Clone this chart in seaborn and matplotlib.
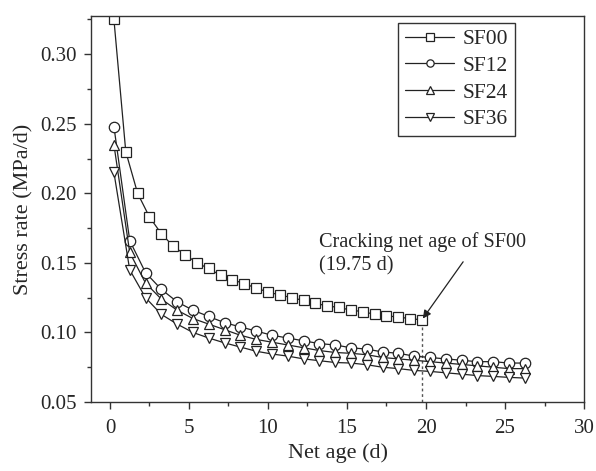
import numpy as np
import pandas as pd
import matplotlib
matplotlib.use("Agg")
import matplotlib.pyplot as plt
import seaborn as sns

# ---- data ----
age_sf00 = [0.25 + 0.75 * i for i in range(27)]
age_sf = [0.25 + 1.0 * i for i in range(27)]

sf00 = [0.325, 0.230, 0.200, 0.183, 0.171, 0.162, 0.156, 0.150, 0.146, 0.141,
        0.138, 0.135, 0.132, 0.129, 0.127, 0.125, 0.123, 0.121, 0.119, 0.118,
        0.116, 0.115, 0.113, 0.112, 0.111, 0.110, 0.109]
sf12 = [0.248, 0.166, 0.143, 0.131, 0.122, 0.116, 0.1115, 0.107, 0.104, 0.101,
        0.098, 0.096, 0.094, 0.092, 0.091, 0.089, 0.088, 0.086, 0.085, 0.083,
        0.082, 0.081, 0.080, 0.079, 0.079, 0.078, 0.078]
sf24 = [0.235, 0.1575, 0.1355, 0.124, 0.116, 0.110, 0.106, 0.102, 0.098, 0.095,
        0.093, 0.091, 0.089, 0.087, 0.0856, 0.085, 0.084, 0.082, 0.081, 0.080,
        0.079, 0.078, 0.077, 0.076, 0.075, 0.074, 0.074]
sf36 = [0.215, 0.145, 0.125, 0.113, 0.106, 0.100, 0.096, 0.0925, 0.0895, 0.0865,
        0.0845, 0.083, 0.081, 0.0797, 0.0784, 0.078, 0.0768, 0.075, 0.074, 0.0727,
        0.072, 0.071, 0.070, 0.069, 0.0684, 0.0677, 0.0672]

series_names = ["SF00", "SF12", "SF24", "SF36"]
series_x = [age_sf00, age_sf, age_sf, age_sf]
series_y = [sf00, sf12, sf24, sf36]
markers = ["s", "o", "^", "v"]

crack_age = 19.75
crack_rate = sf00[-1]

x_ticks = [0, 5, 10, 15, 20, 25, 30]
y_ticks = [0.05, 0.10, 0.15, 0.20, 0.25, 0.30]

# ---- style ----
sns.set_theme(style="ticks")
plt.rcParams["font.family"] = ["Liberation Serif", "DejaVu Serif"]

fig = plt.figure(figsize=(5.96, 4.71), dpi=100)
ax = fig.add_axes([0.1527, 0.1465, 0.8272, 0.8195])

for name, xs, ys, mk in zip(series_names, series_x, series_y, markers):
    df = pd.DataFrame({"age": xs, "rate": ys})
    sns.lineplot(data=df, x="age", y="rate", ax=ax, color="#222222",
                 linewidth=0.9, marker=mk, markersize=7.5,
                 markerfacecolor="white", markeredgecolor="#222222",
                 markeredgewidth=0.9, label=name, errorbar=None)

# cracking marker line
ax.plot([crack_age, crack_age], [0.05, crack_rate], color="#555555",
        linestyle=(0, (2, 2)), linewidth=1.0, zorder=1)

ax.text(13.2, 0.1725, "Cracking net age of SF00\n(19.75 d)", fontsize=14.6,
        ha="left", va="top", linespacing=1.35)
ax.annotate("", xy=(crack_age + 0.05, crack_rate + 0.001),
            xytext=(22.35, 0.1508), textcoords="data",
            arrowprops=dict(arrowstyle="-|>", color="#222222", lw=0.9,
                            shrinkA=0, shrinkB=0, mutation_scale=12))

ax.set_xlim(-1.2, 30)
ax.set_ylim(0.05, 0.3275)
ax.set_xticks(x_ticks)
ax.set_yticks(y_ticks)
ax.set_xticklabels([str(v) for v in x_ticks])
ax.set_yticklabels([f"{v:.2f}" for v in y_ticks])
ax.set_xticks([2.5, 7.5, 12.5, 17.5, 22.5, 27.5], minor=True)
ax.set_yticks([0.075, 0.125, 0.175, 0.225, 0.275, 0.325], minor=True)
ax.tick_params(axis="both", which="major", direction="out", length=5,
               width=1.0, labelsize=15, color="#333333")
ax.tick_params(axis="x", which="major", pad=7)
ax.tick_params(axis="y", which="major", pad=5)
ax.tick_params(axis="both", which="minor", direction="out", length=3,
               width=1.0, color="#333333")
ax.tick_params(top=False, right=False, which="both")

for sp in ax.spines.values():
    sp.set_visible(True)
    sp.set_color("#333333")
    sp.set_linewidth(1.0)

ax.set_xlabel("Net age (d)", fontsize=16, labelpad=4)
ax.set_ylabel("Stress rate (MPa/d)", fontsize=16, labelpad=5)

leg = ax.legend(loc="upper right", bbox_to_anchor=(0.86, 0.982),
                fontsize=15.5, frameon=True, fancybox=False,
                edgecolor="#333333", framealpha=1, handlelength=2.3,
                handletextpad=0.4, labelspacing=0.3, borderpad=0.3,
                markerscale=0.7, borderaxespad=0)
leg.get_frame().set_linewidth(1.0)

fig.savefig("out.png", dpi=100)
